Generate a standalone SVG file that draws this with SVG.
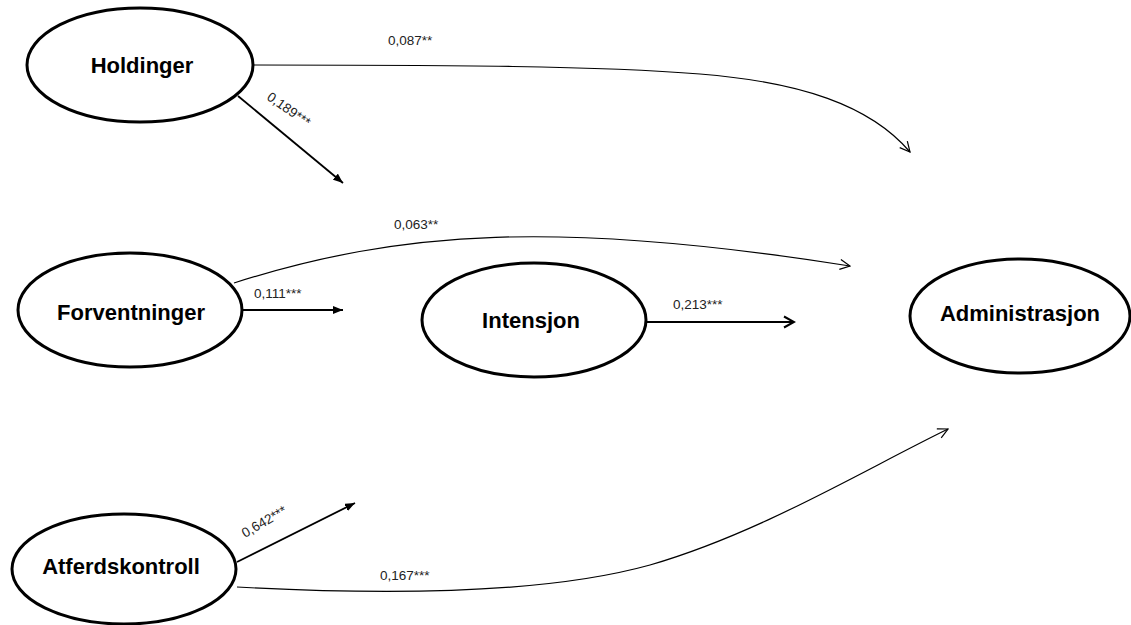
<svg xmlns="http://www.w3.org/2000/svg" width="1131" height="625" viewBox="0 0 1131 625">
  <style>
    .node ellipse { fill: #ffffff; stroke: #000000; stroke-width: 3; }
    .node text { font-family: "Liberation Sans", Arial, sans-serif; font-weight: bold; font-size: 22px; text-anchor: middle; fill: #000000; }
    .curve { fill: none; stroke: #000000; stroke-width: 1.2; marker-end: url(#open); }
    .straight { fill: none; stroke: #000000; stroke-width: 1.8; marker-end: url(#solid); }
    .straight-open { fill: none; stroke: #000000; stroke-width: 2; marker-end: url(#openBold); }
    .lbl { font-family: "Liberation Sans", Arial, sans-serif; font-size: 13.5px; fill: #222222; }
  </style>
  <defs>
    <marker id="open" markerUnits="userSpaceOnUse" viewBox="0 0 12 12" refX="11" refY="6" markerWidth="12" markerHeight="12" orient="auto">
      <polyline points="1,1 11,6 1,11" fill="none" stroke="#000000" stroke-width="1.2"/>
    </marker>
    <marker id="openBold" markerUnits="userSpaceOnUse" viewBox="0 0 14 14" refX="12" refY="7" markerWidth="14" markerHeight="14" orient="auto">
      <polyline points="2,1.5 12,7 2,12.5" fill="none" stroke="#000000" stroke-width="2"/>
    </marker>
    <marker id="solid" markerUnits="userSpaceOnUse" viewBox="0 0 10 8" refX="10" refY="4" markerWidth="10" markerHeight="8" orient="auto">
      <path d="M0,0 L10,4 L0,8 Z" fill="#000000"/>
    </marker>
  </defs>

  <rect x="0" y="0" width="1131" height="625" fill="#ffffff"/>

  <!-- connectors -->
  <g id="connectors">
    <!-- Holdinger -> Administrasjon -->
    <path class="curve" d="M253,65 C450,65 600,66 700,74 C800,82 870,105 910,152"/>
    <!-- Holdinger -> (Intensjon) -->
    <line class="straight" x1="238" y1="96" x2="343" y2="183"/>
    <!-- Forventninger -> Administrasjon -->
    <path class="curve" d="M234,283 C400,230 560,220 850,266"/>
    <!-- Forventninger -> (Intensjon) -->
    <line class="straight" x1="243" y1="310" x2="343" y2="310"/>
    <!-- Intensjon -> (Administrasjon) -->
    <line class="straight-open" x1="647" y1="322" x2="794" y2="322"/>
    <!-- Atferdskontroll -> (Intensjon) -->
    <line class="straight" x1="237" y1="562" x2="355" y2="503"/>
    <!-- Atferdskontroll -> Administrasjon -->
    <path class="curve" d="M237,587 C420,597 560,590 650,565 C760,533 860,472 948,429"/>

    <!-- path coefficients -->
    <text class="lbl" x="388" y="45">0,087**</text>
    <text class="lbl" transform="translate(266,99) rotate(35)">0,189***</text>
    <text class="lbl" x="394" y="229">0,063**</text>
    <text class="lbl" x="254" y="298">0,111***</text>
    <text class="lbl" x="673" y="309">0,213***</text>
    <text class="lbl" transform="translate(245,538) rotate(-30)">0,642***</text>
    <text class="lbl" x="380" y="580">0,167***</text>
  </g>

  <g id="holdinger" class="node">
    <ellipse cx="140" cy="65" rx="113" ry="57"/>
    <text x="142" y="73">Holdinger</text>
  </g>
  <g id="forventninger" class="node">
    <ellipse cx="130" cy="310" rx="112" ry="57"/>
    <text x="131" y="320">Forventninger</text>
  </g>
  <g id="intensjon" class="node">
    <ellipse cx="534" cy="320" rx="112" ry="57"/>
    <text x="531" y="328">Intensjon</text>
  </g>
  <g id="administrasjon" class="node">
    <ellipse cx="1020" cy="316" rx="110" ry="57"/>
    <text x="1020" y="321">Administrasjon</text>
  </g>
  <g id="atferdskontroll" class="node">
    <ellipse cx="124" cy="569" rx="112" ry="55"/>
    <text x="121" y="574">Atferdskontroll</text>
  </g>
</svg>
